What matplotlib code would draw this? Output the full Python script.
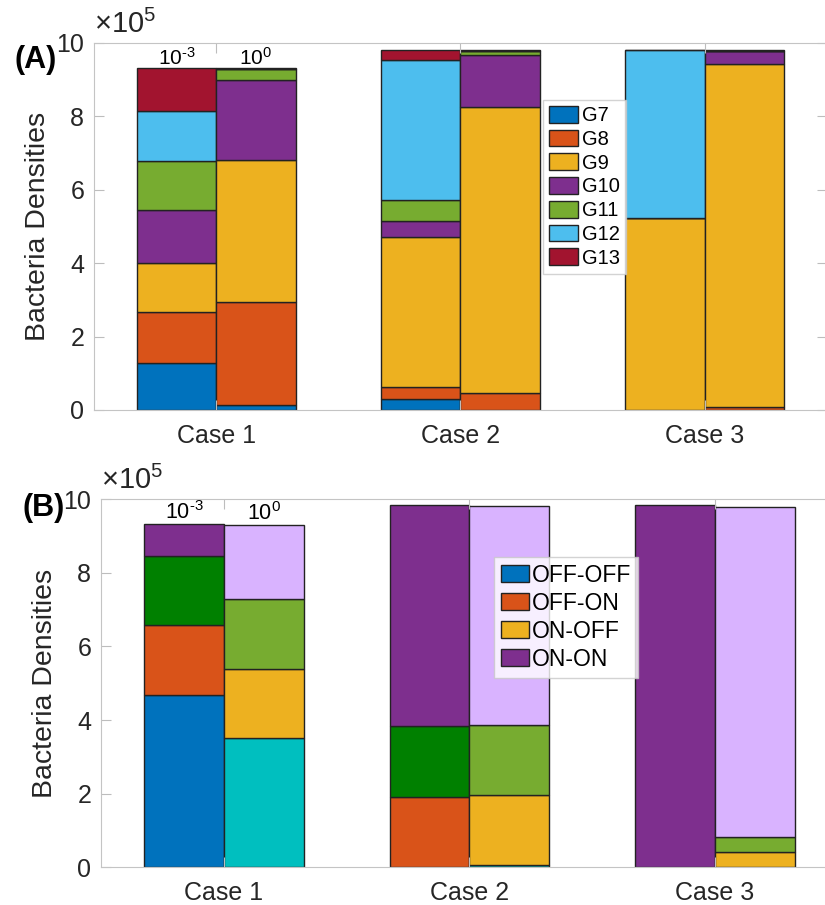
import matplotlib
matplotlib.use("Agg")
import matplotlib.pyplot as plt
from matplotlib.patches import Patch
import numpy as np

plt.rcParams["font.family"] = ["Liberation Sans", "DejaVu Sans"]
plt.rcParams["mathtext.fontset"] = "custom"
plt.rcParams["mathtext.rm"] = "Liberation Sans"
plt.rcParams["mathtext.it"] = "Liberation Sans"

cases = ["Case 1", "Case 2", "Case 3"]
rates = [r"$10^{\text{-}3}$", r"$10^{0}$"]

# ---- panel A: densities per group (units of 1e5), [case][rate] ----
groups = ["G7", "G8", "G9", "G10", "G11", "G12", "G13"]
group_colors = ["#0072BD", "#D95319", "#EDB120", "#7E2F8E", "#77AC30", "#4DBEEE", "#A2142F"]
dens_lo = np.array([  # rate 1e-3, rows = case
    [1.29, 1.37, 1.35, 1.43, 1.35, 1.35, 1.17],
    [0.30, 0.32, 4.08, 0.44, 0.58, 3.82, 0.28],
    [0.00, 0.00, 5.24, 0.00, 0.00, 4.58, 0.00],
])
dens_hi = np.array([  # rate 1e0
    [0.13, 2.80, 3.88, 2.17, 0.32, 0.00, 0.01],
    [0.00, 0.45, 7.80, 1.42, 0.10, 0.00, 0.05],
    [0.00, 0.08, 9.35, 0.36, 0.00, 0.00, 0.02],
])

# ---- panel B: switch states ----
states = ["OFF-OFF", "OFF-ON", "ON-OFF", "ON-ON"]
legend_colors = ["#0072BD", "#D95319", "#EDB120", "#7E2F8E"]
colors_lo = ["#0072BD", "#D95319", "#008000", "#7E2F8E"]
colors_hi = ["#00BFBF", "#EDB120", "#77AC30", "#D9B3FF"]
state_lo = np.array([
    [4.69, 1.90, 1.88, 0.85],
    [0.00, 1.90, 1.93, 6.02],
    [0.00, 0.00, 0.00, 9.85],
])
state_hi = np.array([
    [3.51, 1.88, 1.90, 2.01],
    [0.06, 1.91, 1.90, 5.96],
    [0.00, 0.41, 0.41, 8.98],
])

fig = plt.figure(figsize=(8.25, 9.05), dpi=100)
axA = fig.add_axes([0.1139, 0.547, 0.8885, 0.4055])
axB = fig.add_axes([0.1224, 0.0417, 0.8933, 0.4066])

x = np.arange(1, len(cases) + 1)
w = 0.325


def stack(ax, xpos, data, cols):
    bottom = np.zeros(len(xpos))
    for k in range(data.shape[1]):
        ax.bar(xpos, data[:, k], w, bottom=bottom, color=cols[k],
               edgecolor="#222222", linewidth=1.0)
        bottom += data[:, k]
    return bottom


def style(ax):
    ax.set_xlim(0.5, 3.5)
    ax.set_ylim(0, 10)
    ax.set_xticks(x, labels=cases)
    ax.set_yticks([0, 2, 4, 6, 8, 10])
    ax.tick_params(direction="in", length=7, labelsize=18, colors="#bdbdbd",
                   labelcolor="#262626", top=True, right=True)
    ax.tick_params(axis="x", pad=10)
    ax.tick_params(axis="y", pad=7)
    for s in ax.spines.values():
        s.set_color("#c4c4c4")
    ax.set_ylabel("Bacteria Densities", fontsize=20.5, color="#262626", labelpad=4)
    ax.text(0.0, 1.012, r"$\times\mathregular{10^{5}}$", transform=ax.transAxes,
            fontsize=21, color="#262626", ha="left", va="bottom")


tot_lo = stack(axA, x - w / 2, dens_lo, group_colors)
tot_hi = stack(axA, x + w / 2, dens_hi, group_colors)
axA.text(1 - w / 2, tot_lo[0], rates[0], ha="center", va="bottom", fontsize=15)
axA.text(1 + w / 2, tot_hi[0], rates[1], ha="center", va="bottom", fontsize=15)
style(axA)
fig.text(15 / 825, 1 - 60 / 905, "(A)", fontsize=22, weight="bold",
         ha="left", va="center")
hA = [Patch(facecolor=c, edgecolor="#222222") for c in group_colors]
axA.legend(hA, groups, loc="upper left", bbox_to_anchor=(0.6126, 0.845),
           fontsize=14.5, frameon=True, fancybox=False, edgecolor="#c8c8c8",
           handlelength=1.45, handleheight=0.9, handletextpad=0.2,
           labelspacing=0.22, borderpad=0.3, borderaxespad=0)

tot_lo = stack(axB, x - w / 2, state_lo, colors_lo)
tot_hi = stack(axB, x + w / 2, state_hi, colors_hi)
axB.text(1 - w / 2, tot_lo[0], rates[0], ha="center", va="bottom", fontsize=15.5)
axB.text(1 + w / 2, tot_hi[0], rates[1], ha="center", va="bottom", fontsize=15.5)
style(axB)
fig.text(22 / 825, 1 - 508 / 905, "(B)", fontsize=22, weight="bold",
         ha="left", va="center")
hB = [Patch(facecolor=c, edgecolor="#222222") for c in legend_colors]
axB.legend(hB, states, loc="upper left", bbox_to_anchor=(0.533, 0.844),
           fontsize=16.5, frameon=True, fancybox=False, edgecolor="#c8c8c8",
           handlelength=1.25, handleheight=0.8, handletextpad=0.12,
           labelspacing=0.22, borderpad=0.3, borderaxespad=0)

fig.savefig("out.png", dpi=100, facecolor="white")
